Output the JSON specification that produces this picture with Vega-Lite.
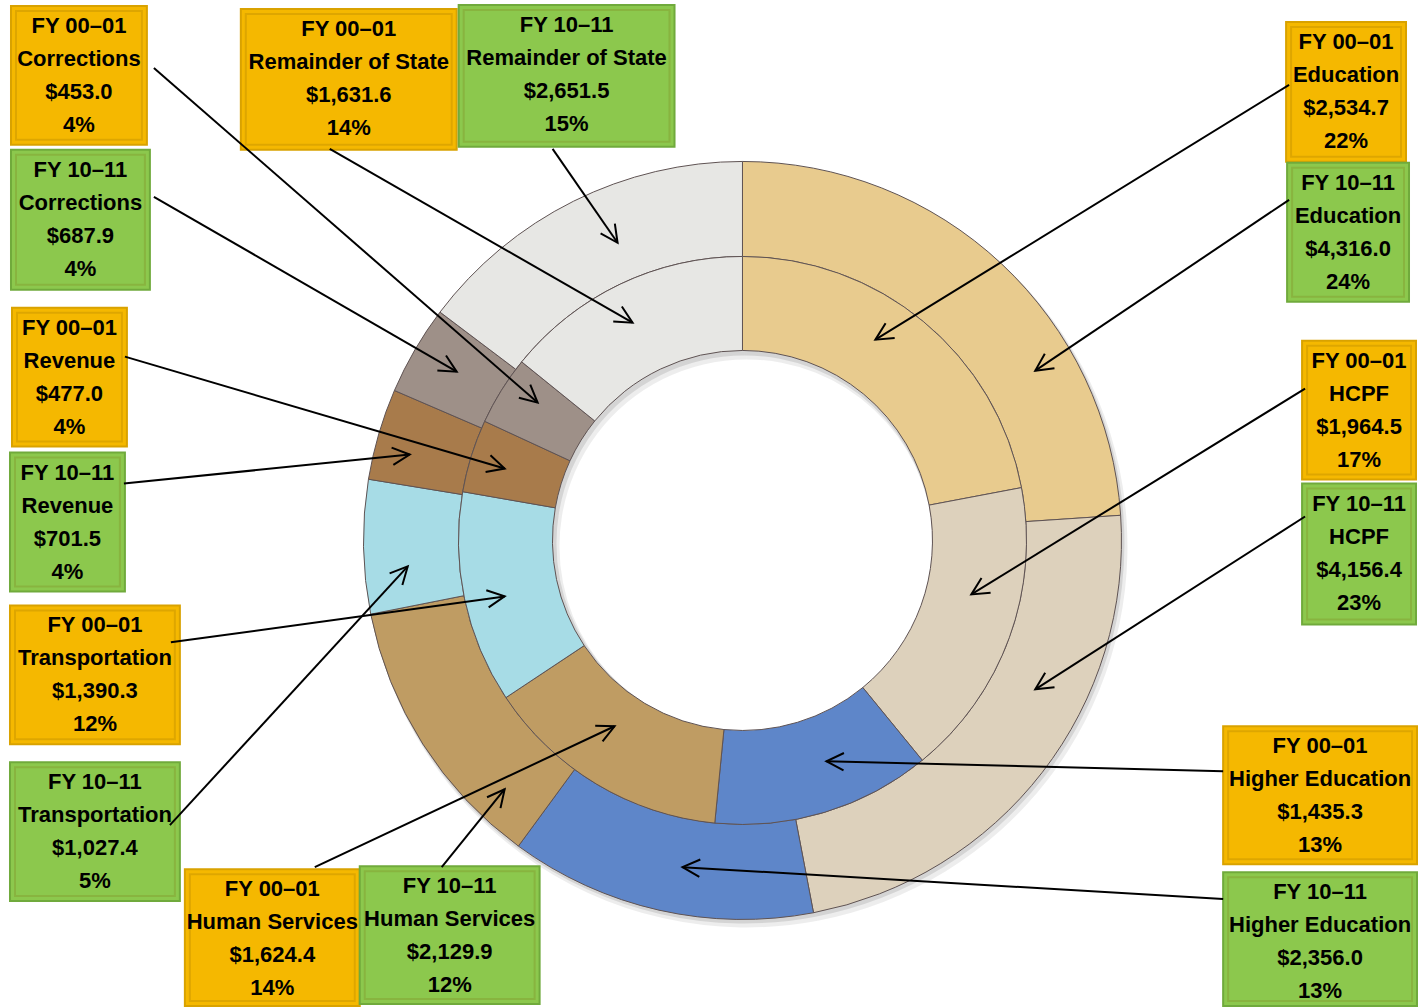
{
  "$schema": "https://vega.github.io/schema/vega-lite/v6.json",
  "width": 1418,
  "height": 1007,
  "autosize": {"type": "fit", "contains": "padding"},
  "padding": 0,
  "background": "white",
  "config": {"view": {"stroke": null}},
  "data": {
    "values": [
      {"year": "FY 00–01", "category": "Education", "order": 1, "amount": 2534.7, "share": 0.22, "bx1": 544, "bx2": 664, "by1": -519, "by2": -379, "ax": 547, "ay": -456, "tx": 133, "ty": -201},
      {"year": "FY 10–11", "category": "Education", "order": 1, "amount": 4316.0, "share": 0.24, "bx1": 545, "bx2": 667, "by1": -378, "by2": -239, "ax": 547, "ay": -341, "tx": 293, "ty": -170},
      {"year": "FY 00–01", "category": "HCPF", "order": 2, "amount": 1964.5, "share": 0.17, "bx1": 560, "bx2": 674, "by1": -200, "by2": -61, "ax": 563, "ay": -152, "tx": 229, "ty": 54},
      {"year": "FY 10–11", "category": "HCPF", "order": 2, "amount": 4156.4, "share": 0.23, "bx1": 560, "bx2": 674, "by1": -57, "by2": 84, "ax": 563, "ay": -24, "tx": 293, "ty": 149},
      {"year": "FY 00–01", "category": "Higher Education", "order": 3, "amount": 1435.3, "share": 0.13, "bx1": 481, "bx2": 675, "by1": 186, "by2": 324, "ax": 481, "ay": 231, "tx": 84, "ty": 221},
      {"year": "FY 10–11", "category": "Higher Education", "order": 3, "amount": 2356.0, "share": 0.13, "bx1": 481, "bx2": 675, "by1": 332, "by2": 466, "ax": 481, "ay": 359, "tx": -60, "ty": 327},
      {"year": "FY 00–01", "category": "Human Services", "order": 4, "amount": 1624.4, "share": 0.14, "bx1": -558, "bx2": -383, "by1": 329, "by2": 466, "ax": -428, "ay": 327, "tx": -128, "ty": 186},
      {"year": "FY 10–11", "category": "Human Services", "order": 4, "amount": 2129.9, "share": 0.12, "bx1": -383, "bx2": -203, "by1": 326, "by2": 464, "ax": -301, "ay": 327, "tx": -238, "ty": 249},
      {"year": "FY 00–01", "category": "Transportation", "order": 5, "amount": 1390.3, "share": 0.12, "bx1": -733, "bx2": -563, "by1": 65, "by2": 204, "ax": -572, "ay": 102, "tx": -238, "ty": 56},
      {"year": "FY 10–11", "category": "Transportation", "order": 5, "amount": 1027.4, "share": 0.05, "bx1": -733, "bx2": -563, "by1": 222, "by2": 361, "ax": -573, "ay": 285, "tx": -335, "ty": 26},
      {"year": "FY 00–01", "category": "Revenue", "order": 6, "amount": 477.0, "share": 0.04, "bx1": -731, "bx2": -616, "by1": -233, "by2": -94, "ax": -618, "ay": -184, "tx": -238, "ty": -72},
      {"year": "FY 10–11", "category": "Revenue", "order": 6, "amount": 701.5, "share": 0.04, "bx1": -733, "bx2": -618, "by1": -88, "by2": 51, "ax": -619, "ay": -57, "tx": -333, "ty": -86},
      {"year": "FY 00–01", "category": "Corrections", "order": 7, "amount": 453.0, "share": 0.04, "bx1": -732, "bx2": -596, "by1": -535, "by2": -396, "ax": -589, "ay": -473, "tx": -205, "ty": -138},
      {"year": "FY 10–11", "category": "Corrections", "order": 7, "amount": 687.9, "share": 0.04, "bx1": -732, "bx2": -593, "by1": -391, "by2": -251, "ax": -589, "ay": -344, "tx": -286, "ty": -169},
      {"year": "FY 00–01", "category": "Remainder of State", "order": 8, "amount": 1631.6, "share": 0.14, "bx1": -502, "bx2": -286, "by1": -532, "by2": -391, "ax": -413, "ay": -392, "tx": -110, "ty": -218},
      {"year": "FY 10–11", "category": "Remainder of State", "order": 8, "amount": 2651.5, "share": 0.15, "bx1": -284, "bx2": -68, "by1": -536, "by2": -394, "ax": -190, "ay": -392, "tx": -125, "ty": -298}
    ]
  },
  "layer": [
    {
      "transform": [{"filter": {"field": "year", "equal": "FY 10–11"}}],
      "mark": {"type": "arc", "outerRadius": 381, "innerRadius": 187, "color": "#000000", "opacity": 0.07, "xOffset": 4, "yOffset": 6},
      "encoding": {
        "theta": {"field": "amount", "type": "quantitative", "stack": true},
        "order": {"field": "order", "type": "quantitative"},
        "x": {"datum": 0, "type": "quantitative", "axis": null, "scale": {"domain": [-743, 675], "nice": false, "zero": false}},
        "y": {"datum": 0, "type": "quantitative", "axis": null, "scale": {"domain": [-541, 466], "nice": false, "zero": false, "reverse": true}}
      }
    },
    {
      "transform": [{"filter": {"field": "year", "equal": "FY 10–11"}}],
      "mark": {"type": "arc", "outerRadius": 380, "innerRadius": 188, "color": "#000000", "opacity": 0.1, "xOffset": 2, "yOffset": 3},
      "encoding": {
        "theta": {"field": "amount", "type": "quantitative", "stack": true},
        "order": {"field": "order", "type": "quantitative"},
        "x": {"datum": 0, "type": "quantitative", "axis": null, "scale": {"domain": [-743, 675], "nice": false, "zero": false}},
        "y": {"datum": 0, "type": "quantitative", "axis": null, "scale": {"domain": [-541, 466], "nice": false, "zero": false, "reverse": true}}
      }
    },
    {
      "transform": [{"filter": {"field": "year", "equal": "FY 10–11"}}],
      "mark": {"type": "arc", "outerRadius": 379, "innerRadius": 284, "stroke": "#5f5353", "strokeWidth": 1},
      "encoding": {
        "theta": {"field": "amount", "type": "quantitative", "stack": true},
        "order": {"field": "order", "type": "quantitative"},
        "color": {
          "field": "category", "type": "nominal", "legend": null,
          "scale": {
            "domain": ["Education", "HCPF", "Higher Education", "Human Services", "Transportation", "Revenue", "Corrections", "Remainder of State"],
            "range": ["#E8CB8E", "#DDD1BC", "#5E86C9", "#BF9C63", "#A7DCE6", "#A87B4B", "#9E9088", "#E7E7E4"]
          }
        },
        "x": {"datum": 0, "type": "quantitative", "axis": null, "scale": {"domain": [-743, 675], "nice": false, "zero": false}},
        "y": {"datum": 0, "type": "quantitative", "axis": null, "scale": {"domain": [-541, 466], "nice": false, "zero": false, "reverse": true}}
      }
    },
    {
      "transform": [{"filter": {"field": "year", "equal": "FY 00–01"}}],
      "mark": {"type": "arc", "outerRadius": 284, "innerRadius": 190, "stroke": "#5f5353", "strokeWidth": 1},
      "encoding": {
        "theta": {"field": "amount", "type": "quantitative", "stack": true},
        "order": {"field": "order", "type": "quantitative"},
        "color": {"field": "category", "type": "nominal", "legend": null},
        "x": {"datum": 0, "type": "quantitative", "axis": null, "scale": {"domain": [-743, 675], "nice": false, "zero": false}},
        "y": {"datum": 0, "type": "quantitative", "axis": null, "scale": {"domain": [-541, 466], "nice": false, "zero": false, "reverse": true}}
      }
    },
    {
      "mark": {"type": "rect", "strokeWidth": 2},
      "encoding": {
        "x": {"field": "bx1", "type": "quantitative", "axis": null, "scale": {"domain": [-743, 675], "nice": false, "zero": false}},
        "x2": {"field": "bx2"},
        "y": {"field": "by1", "type": "quantitative", "axis": null, "scale": {"domain": [-541, 466], "nice": false, "zero": false, "reverse": true}},
        "y2": {"field": "by2"},
        "fill": {"field": "year", "type": "nominal", "legend": null, "scale": {"domain": ["FY 00–01", "FY 10–11"], "range": ["#F5B800", "#8CC84D"]}},
        "stroke": {"field": "year", "type": "nominal", "legend": null, "scale": {"domain": ["FY 00–01", "FY 10–11"], "range": ["#D9A200", "#70AA3C"]}}
      }
    },
    {
      "mark": {"type": "rect", "fill": null, "filled": false, "strokeWidth": 2, "stroke": "#7a5a00", "strokeOpacity": 0.18, "xOffset": 5, "x2Offset": -5, "yOffset": 5, "y2Offset": -5},
      "encoding": {
        "x": {"field": "bx1", "type": "quantitative", "axis": null, "scale": {"domain": [-743, 675], "nice": false, "zero": false}},
        "x2": {"field": "bx2"},
        "y": {"field": "by1", "type": "quantitative", "axis": null, "scale": {"domain": [-541, 466], "nice": false, "zero": false, "reverse": true}},
        "y2": {"field": "by2"}
      }
    },
    {
      "transform": [{"calculate": "(datum.bx1 + datum.bx2) / 2", "as": "cx"}],
      "encoding": {
        "x": {"field": "cx", "type": "quantitative", "axis": null, "scale": {"domain": [-743, 675], "nice": false, "zero": false}},
        "y": {"field": "by1", "type": "quantitative", "axis": null, "scale": {"domain": [-541, 466], "nice": false, "zero": false, "reverse": true}}
      },
      "layer": [
        {"mark": {"type": "text", "dy": 20, "font": "Liberation Sans", "fontWeight": "bold", "fontSize": 22, "color": "black", "baseline": "middle", "align": "center"},
         "encoding": {"text": {"field": "year", "type": "nominal"}}},
        {"mark": {"type": "text", "dy": 53, "font": "Liberation Sans", "fontWeight": "bold", "fontSize": 22, "color": "black", "baseline": "middle", "align": "center"},
         "encoding": {"text": {"field": "category", "type": "nominal"}}},
        {"mark": {"type": "text", "dy": 86, "font": "Liberation Sans", "fontWeight": "bold", "fontSize": 22, "color": "black", "baseline": "middle", "align": "center"},
         "encoding": {"text": {"field": "amount", "type": "quantitative", "format": "$,.1f"}}},
        {"mark": {"type": "text", "dy": 119, "font": "Liberation Sans", "fontWeight": "bold", "fontSize": 22, "color": "black", "baseline": "middle", "align": "center"},
         "encoding": {"text": {"field": "share", "type": "quantitative", "format": ".0%"}}}
      ]
    },
    {
      "mark": {"type": "rule", "strokeWidth": 2, "color": "black"},
      "encoding": {
        "x": {"field": "ax", "type": "quantitative", "axis": null, "scale": {"domain": [-743, 675], "nice": false, "zero": false}},
        "y": {"field": "ay", "type": "quantitative", "axis": null, "scale": {"domain": [-541, 466], "nice": false, "zero": false, "reverse": true}},
        "x2": {"field": "tx"},
        "y2": {"field": "ty"}
      }
    },
    {
      "transform": [{"calculate": "atan2(datum.ty - datum.ay, datum.tx - datum.ax) * 180 / PI", "as": "ang"}],
      "mark": {"type": "point", "shape": "M-1,-0.5L0,0L-1,0.5", "filled": false, "size": 1200, "strokeWidth": 2, "color": "black", "opacity": 1},
      "encoding": {
        "x": {"field": "tx", "type": "quantitative", "axis": null, "scale": {"domain": [-743, 675], "nice": false, "zero": false}},
        "y": {"field": "ty", "type": "quantitative", "axis": null, "scale": {"domain": [-541, 466], "nice": false, "zero": false, "reverse": true}},
        "angle": {"field": "ang", "type": "quantitative", "scale": null}
      }
    }
  ],
  "resolve": {"scale": {"theta": "independent"}}
}
